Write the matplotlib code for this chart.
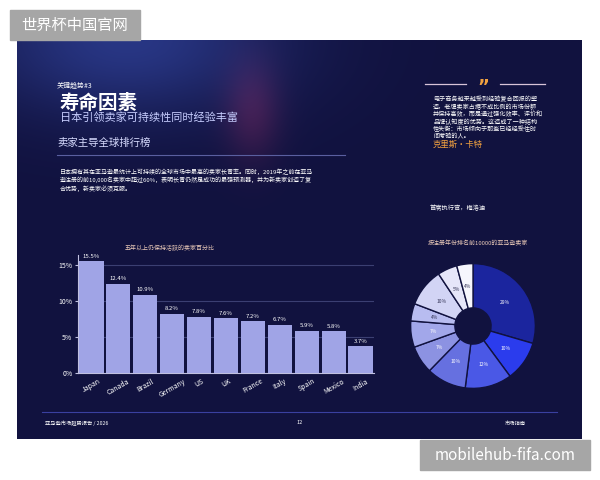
import matplotlib.pyplot as plt
import numpy as np

plt.rcParams['font.family'] = ['Noto Sans CJK SC', 'DejaVu Sans']

# Bar chart data
countries = ['Japan', 'Canada', 'Brazil', 'Germany', 'US', 'UK', 'France', 'Italy', 'Spain', 'Mexico', 'India']
active_pct = [15.5, 12.4, 10.9, 8.2, 7.8, 7.6, 7.2, 6.7, 5.9, 5.8, 3.7]
y_ticks = [0, 5, 10, 15]

# Donut data (shares)
donut_share = [29.5, 10.4, 12.1, 10.3, 7.2, 6.8, 4.5, 9.9, 5.1, 4.2]
donut_colors = ['#1b259e', '#2b3ced', '#4a58e6', '#6670e0', '#8c92e2',
                '#a2a7ea', '#b8bcf0', '#d2d4f5', '#e6e6f9', '#f6f6fd']

W, H = 600, 480
BG = '#11123f'


def rect(x, y, w, h):
    # pixel box (top-left origin) -> figure fraction
    return [x / W, 1 - (y + h) / H, w / W, h / H]


def px(x, y):
    return x / W, 1 - y / H


fig = plt.figure(figsize=(6, 4.8), dpi=100)
fig.patch.set_facecolor('white')

# Dark page with a soft glow in the upper left
bg = fig.add_axes(rect(17, 40, 565, 399))
yy, xx = np.mgrid[0:399, 0:565]
base = np.array([0x11, 0x12, 0x3f]) / 255
glow1 = np.exp(-(((xx - 110) / 150) ** 2 + ((yy - 0) / 75) ** 2))
glow2 = np.exp(-(((xx - 235) / 28) ** 2 + ((yy - 70) / 50) ** 2))
img = np.ones((399, 565, 3)) * base
img += glow1[..., None] * (np.array([0x28, 0x36, 0x84]) / 255 - base)
img += glow2[..., None] * (np.array([0x48, 0x1c, 0x4c]) / 255 - base) * 0.8
bg.imshow(np.clip(img, 0, 1), aspect='auto')
bg.axis('off')

# Header texts
fig.text(*px(57, 86), '关键趋势#3', color='white', fontsize=5, va='center')
fig.text(*px(60, 103), '寿命因素', color='white', fontsize=14, fontweight='bold', va='center')
fig.text(*px(60, 118), '日本引领卖家可持续性同时经验丰富', color='#c8ceff', fontsize=8, va='center')
fig.text(*px(57, 143), '卖家主导全球排行榜', color='#d8dcff', fontsize=7.5, va='center')
fig.add_artist(plt.Line2D([57 / W, 345 / W], [1 - 155 / H] * 2, color='#5a5fa0', lw=0.8))
fig.text(*px(60, 180),
         '日本拥有其在亚马逊最统计上可持续的全球市场中最高的卖家长青率。同时，2019年之前在亚马\n'
         '逊注册的前10,000名卖家中超过60%，表明长青仍然是成功的最强预测器，并为新卖家创造了复\n'
         '合优势，新卖家必须克服。',
         color='white', fontsize=4.3, va='center', linespacing=1.3)

# Quote block
fig.add_artist(plt.Line2D([425 / W, 466 / W], [1 - 84 / H] * 2, color='#d8c4d8', lw=0.9))
fig.add_artist(plt.Line2D([500 / W, 545 / W], [1 - 84 / H] * 2, color='#d8c4d8', lw=0.9))
fig.text(*px(483, 92), '”', color='#f0a040', fontsize=13, fontweight='bold',
         family='DejaVu Sans', ha='center', va='baseline')
fig.text(*px(433, 118),
         '电子商务越来越受到经验复合回报的塑\n造，老牌卖家占据不成比例的市场份额\n'
         '并保持高效，而是通过强化效率、评价和\n品牌认知度的优势。这造成了一种结构\n'
         '性失衡：市场倾向于那些已经经受住时\n间考验的人。',
         color='white', fontsize=4.4, style='italic', va='center', linespacing=0.9)
fig.text(*px(433, 144), '克里斯·卡特', color='#f0a040', fontsize=6, va='center')
fig.text(*px(430, 208), '首席执行官，梅洛迪', color='white', fontsize=4.5, va='center')

# Bar chart
ax = fig.add_axes(rect(78, 255, 296, 118))
ax.set_facecolor('none')
x = np.arange(len(countries))
bars = ax.bar(x, active_pct, width=0.9, color='#a0a4e6', zorder=3)
for b, v in zip(bars, active_pct):
    ax.text(b.get_x() + b.get_width() / 2, v + 0.35, f'{v}%', color='white',
            fontsize=4.3, ha='center', va='bottom')
ax.set_xlim(-0.5, len(countries) - 0.5)
ax.set_ylim(0, 16.4)
ax.set_yticks(y_ticks)
ax.set_yticklabels([f'{t}%' for t in y_ticks], color='white', fontsize=5)
ax.set_xticks(x)
ax.set_xticklabels(countries, rotation=30, color='white', fontsize=5, ha='center')
ax.tick_params(axis='y', length=2, color='#c0c0e0', pad=2)
ax.tick_params(axis='x', length=0, pad=3)
ax.grid(axis='y', color='#3b3f72', lw=0.8, zorder=0)
for s in ['top', 'right']:
    ax.spines[s].set_visible(False)
ax.spines['left'].set_color('#c0c0e0')
ax.spines['bottom'].set_color('#c0c0e0')
ax.spines['left'].set_linewidth(0.8)
ax.spines['bottom'].set_linewidth(0.8)
fig.text(*px(125, 248), '五年以上仍保持活跃的卖家百分比', color='#e8c8b8', fontsize=4.3, va='center')

# Donut chart
fig.text(*px(428, 243), '按注册年份排名前10000的亚马逊卖家', color='#e8c8b8', fontsize=4.3, va='center')
dax = fig.add_axes(rect(410, 263, 126, 126))
wedges, _, autotexts = dax.pie(donut_share, colors=donut_colors, startangle=90, counterclock=False,
                               radius=1, autopct='%.0f%%', pctdistance=0.64,
                               wedgeprops=dict(width=0.71, edgecolor=BG, linewidth=1.0),
                               textprops=dict(fontsize=3.5))
for i, t in enumerate(autotexts):
    t.set_color('white' if i < 6 else '#333355')
dax.set_xlim(-1.01, 1.01)
dax.set_ylim(-1.01, 1.01)
dax.set_aspect('equal')

# Footer
fig.add_artist(plt.Line2D([42 / W, 557 / W], [1 - 412 / H] * 2, color='#3a40a0', lw=0.8))
fig.text(*px(45, 423), '亚马逊市场趋势报告 / 2026', color='white', fontsize=3.8, va='center')
fig.text(*px(300, 423), '12', color='white', fontsize=4, va='center', ha='center')
fig.text(*px(505, 423), '市场指南', color='white', fontsize=3.8, va='center')

# Watermarks
fig.add_artist(plt.Rectangle((10 / W, 1 - 40 / H), 130 / W, 30 / H, color='#a6a6a6',
                             transform=fig.transFigure))
fig.text(*px(75, 25), '世界杯中国官网', color='white', fontsize=11, ha='center', va='center')
fig.add_artist(plt.Rectangle((420 / W, 1 - 470 / H), 170 / W, 30 / H, color='#a6a6a6',
                             transform=fig.transFigure))
fig.text(*px(505, 455), 'mobilehub-fifa.com', color='white', fontsize=11, ha='center', va='center')

fig.savefig('out.png', dpi=100, facecolor='white')
